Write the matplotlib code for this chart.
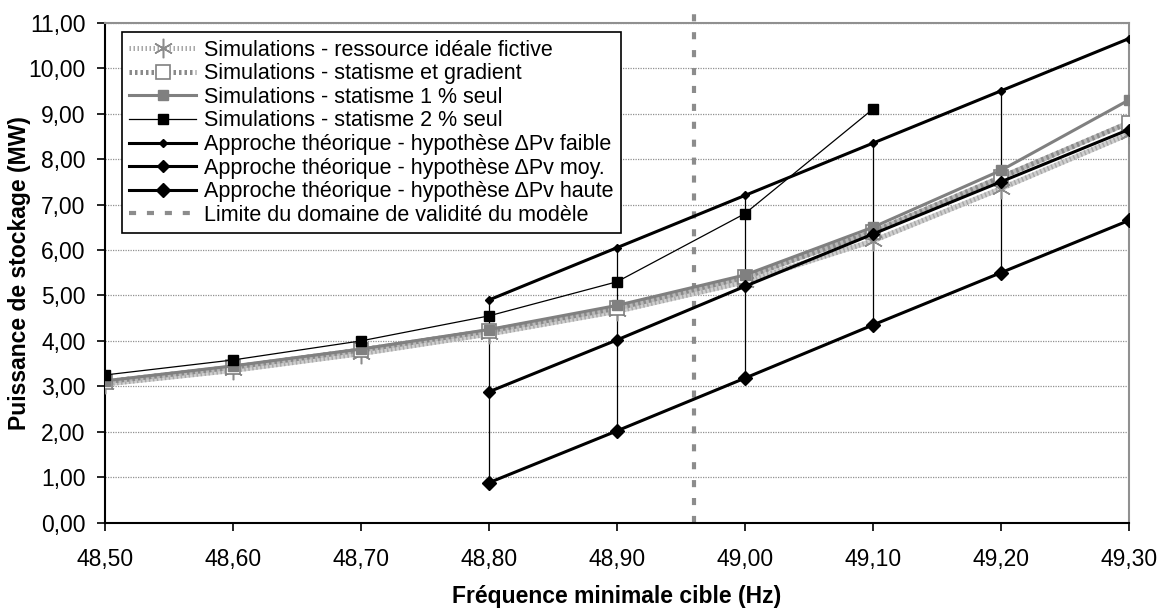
import matplotlib.pyplot as plt
import matplotlib.ticker as mticker

plt.rcParams['font.family'] = ['Liberation Sans', 'DejaVu Sans']

# Fréquences cibles (Hz)
freq = [48.5, 48.6, 48.7, 48.8, 48.9, 49.0, 49.1, 49.2, 49.3]

# Résultats de simulation (MW)
sim_ideale = [3.05, 3.35, 3.72, 4.15, 4.65, 5.30, 6.20, 7.35, 8.55]
sim_stat_grad = [3.10, 3.42, 3.80, 4.22, 4.72, 5.40, 6.40, 7.60, 8.80]
sim_stat_1 = [3.12, 3.45, 3.82, 4.25, 4.78, 5.45, 6.50, 7.75, 9.30]
freq_stat_2 = [48.5, 48.6, 48.7, 48.8, 48.9, 49.0, 49.1]
sim_stat_2 = [3.25, 3.58, 4.00, 4.55, 5.30, 6.80, 9.10]

# Approche théorique (MW)
freq_theo = [48.8, 48.9, 49.0, 49.1, 49.2, 49.3]
theo_faible = [4.90, 6.05, 7.20, 8.35, 9.50, 10.65]
theo_moy = [2.88, 4.02, 5.20, 6.35, 7.50, 8.65]
theo_haute = [0.88, 2.02, 3.18, 4.35, 5.50, 6.65]

limite_validite = 48.96

fig = plt.figure(figsize=(11.65, 6.12), dpi=100)
ax = fig.add_axes([0.0901, 0.1459, 0.8789, 0.8170])

# barres verticales entre hypothèses haute et faible
ax.vlines(freq_theo, theo_haute, theo_faible, colors='black', linewidth=0.9, zorder=2)

ax.plot(freq, sim_ideale, color='#cfcfcf', linewidth=3.6, zorder=3)
ax.plot(freq, sim_ideale, color='#a8a8a8', linewidth=3.6, linestyle=(0, (0.3, 0.5)),
        marker=(6, 2, 0), markersize=14, markeredgecolor='#8c8c8c', markeredgewidth=1.1,
        label='Simulations - ressource idéale fictive', zorder=3)
ax.plot(freq, sim_stat_grad, color='#b8b8b8', linewidth=3.6, zorder=3)
ax.plot(freq, sim_stat_grad, color='#8a8a8a', linewidth=3.6, linestyle=(0, (0.5, 0.6)),
        marker='s', markersize=9.5, markerfacecolor='white', markeredgecolor='#808080',
        markeredgewidth=1.2, label='Simulations - statisme et gradient', zorder=3)
ax.plot(freq, sim_stat_1, color='#808080', linewidth=2.2, marker='s', markersize=7.5,
        markerfacecolor='#808080', markeredgecolor='#808080',
        label='Simulations - statisme 1 % seul', zorder=4)
ax.plot(freq_stat_2, sim_stat_2, color='black', linewidth=0.9, marker='s', markersize=7,
        label='Simulations - statisme 2 % seul', zorder=4)
ax.plot(freq_theo, theo_faible, color='black', linewidth=2.2, marker='D', markersize=4.5,
        label='Approche théorique - hypothèse ΔPv faible', zorder=5)
ax.plot(freq_theo, theo_moy, color='black', linewidth=2.2, marker='D', markersize=6.2,
        label='Approche théorique - hypothèse ΔPv moy.', zorder=5)
ax.plot(freq_theo, theo_haute, color='black', linewidth=2.2, marker='D', markersize=7.6,
        label='Approche théorique - hypothèse ΔPv haute', zorder=5)
ax.plot([limite_validite, limite_validite], [0, 11.25], color='#8c8c8c', linewidth=3,
        linestyle=(0, (1.7, 2.6)), clip_on=False,
        label='Limite du domaine de validité du modèle', zorder=2)

ax.set_xlim(48.5, 49.3)
ax.set_ylim(0, 11)
ax.set_xticks(freq)
ax.set_yticks(range(12))
ax.xaxis.set_major_formatter(mticker.FuncFormatter(lambda v, p: f'{v:.2f}'.replace('.', ',')))
ax.yaxis.set_major_formatter(mticker.FuncFormatter(lambda v, p: f'{v:.2f}'.replace('.', ',')))
ax.tick_params(labelsize=16.5, length=6, width=1.2, direction='out', colors='black')
ax.tick_params(axis='x', pad=12)
ax.tick_params(axis='y', pad=8)
ax.grid(axis='y', color='#909090', linestyle=(0, (1, 1)), linewidth=0.9)
ax.set_axisbelow(True)

for side in ('top', 'right'):
    ax.spines[side].set_color('#909090')
    ax.spines[side].set_linewidth(1.5)
for side in ('left', 'bottom'):
    ax.spines[side].set_linewidth(1.5)

ax.set_xlabel('Fréquence minimale cible (Hz)', fontsize=16.5, fontweight='bold')
ax.set_ylabel('Puissance de stockage (MW)', fontsize=16.5, fontweight='bold')
ax.xaxis.set_label_coords(0.5, -0.125)
ax.yaxis.set_label_coords(-0.072, 0.5)

leg = ax.legend(loc='upper left', bbox_to_anchor=(0.0166, 0.981), fontsize=15.5,
                frameon=True, fancybox=False, edgecolor='black', framealpha=1,
                borderpad=0.35, labelspacing=0.12, handlelength=3.1, handletextpad=0.37,
                borderaxespad=0)
leg.get_frame().set_linewidth(1.2)

fig.savefig('out.png', dpi=100)
